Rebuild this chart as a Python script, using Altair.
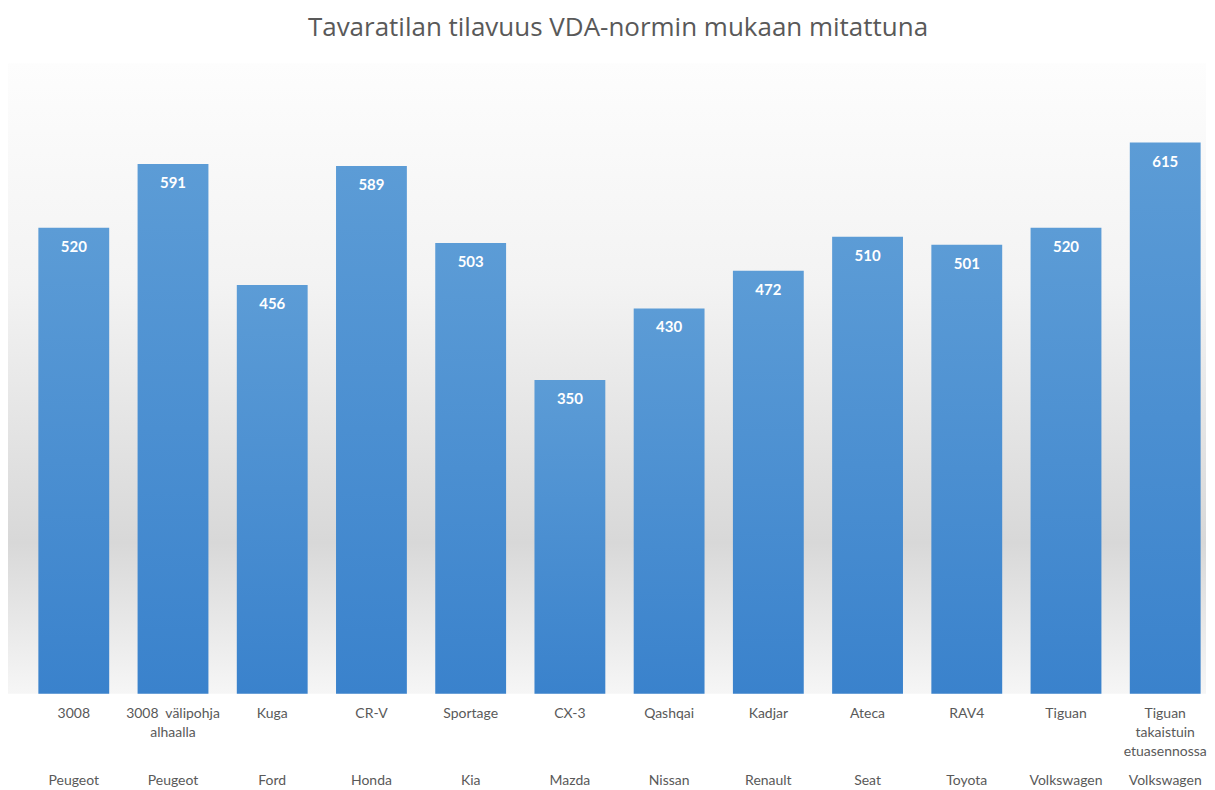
import altair as alt
import pandas as pd

models = ["3008", "3008 \u00a0välipohja|alhaalla", "Kuga", "CR-V", "Sportage", "CX-3",
          "Qashqai", "Kadjar", "Ateca", "RAV4", "Tiguan", "Tiguan|takaistuin|etuasennossa"]
brands = ["Peugeot", "Peugeot", "Ford", "Honda", "Kia", "Mazda",
          "Nissan", "Renault", "Seat", "Toyota", "Volkswagen", "Volkswagen"]
values = [520, 591, 456, 589, 503, 350, 430, 472, 510, 501, 520, 615]

df = pd.DataFrame({"model": models, "brand": brands, "value": values})

W = 1199
H = 631
YMAX = 703.5

bar_grad = alt.LinearGradient(
    gradient="linear", x1=0, y1=0, x2=0, y2=1,
    stops=[alt.GradientStop(offset=0, color="#5C9CD6"),
           alt.GradientStop(offset=1, color="#3A82CC")])

bg_grad = alt.LinearGradient(
    gradient="linear", x1=0, y1=0, x2=0, y2=1,
    stops=[alt.GradientStop(offset=0, color="#FDFDFD"),
           alt.GradientStop(offset=0.35, color="#F3F3F3"),
           alt.GradientStop(offset=0.76, color="#D8D8D8"),
           alt.GradientStop(offset=1, color="#F6F6F6")])

xenc = alt.X("model:N", sort=None,
             scale=alt.Scale(paddingInner=0.286, paddingOuter=0.18, align=0.85),
             axis=alt.Axis(title=None, domain=False, ticks=False, labelAngle=0,
                           labelExpr="split(datum.label, '|')",
                           labelFont="Lato", labelFontSize=14, labelColor="#595959",
                           labelPadding=13, labelLineHeight=19, labelBaseline="top"))
yenc = alt.Y("value:Q", scale=alt.Scale(domain=[0, YMAX], nice=False), axis=None)

background = alt.Chart(pd.DataFrame({"a": [0]})).mark_rect(color=bg_grad).encode(
    x=alt.value(0), x2=alt.value(W), y=alt.value(0), y2=alt.value(H))

base = alt.Chart(df)
bars = base.mark_bar(color=bar_grad).encode(x=xenc, y=yenc)
labels = base.mark_text(color="white", font="Lato", fontWeight="bold", fontSize=15,
                        baseline="middle", dy=19).encode(
    x=xenc, y=yenc, text=alt.Text("value:Q"))
brand_text = base.mark_text(color="#595959", font="Lato", fontSize=14,
                            baseline="middle").encode(
    x=xenc, y=alt.value(H + 87), text="brand:N")

chart = alt.layer(background, bars, labels, brand_text).properties(
    width=W, height=H,
    padding={"left": 0, "right": 0, "top": 7, "bottom": 4},
    title=alt.TitleParams("Tavaratilan tilavuus VDA-normin mukaan mitattuna",
                          font="Open Sans", fontSize=26, fontWeight="normal",
                          color="#595959", anchor="middle", dx=11, offset=22)
).configure_view(strokeWidth=0)

chart.save("out.html", embed_options={"renderer": "svg", "actions": False})
